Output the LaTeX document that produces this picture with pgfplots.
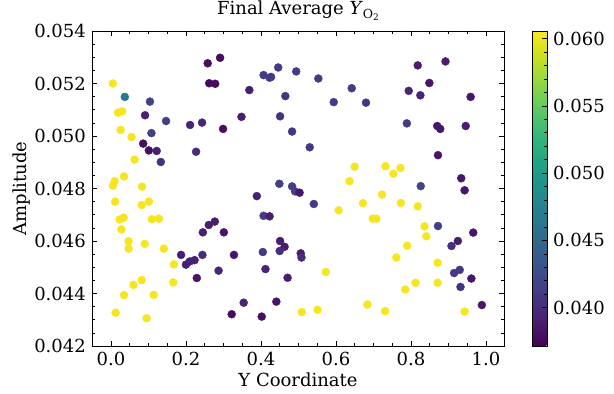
\documentclass[border=0pt]{standalone}
\usepackage{fontspec}
\setmainfont{DejaVu Serif}
\usepackage{pgfplots}
\pgfplotsset{compat=1.18}
\usepackage{pgfplotstable}

\pgfplotstableread{
x y c
0.005 0.0520 0.0603
0.019 0.05089 0.0603
0.030 0.05094 0.0603
0.026 0.05023 0.0603
0.055 0.04996 0.0603
0.063 0.04910 0.0603
0.010 0.04828 0.0603
0.005 0.04811 0.0603
0.035 0.04846 0.0603
0.083 0.04807 0.0603
0.011 0.04750 0.0603
0.082 0.04737 0.0603
0.101 0.04750 0.0603
0.023 0.04682 0.0603
0.034 0.04689 0.0603
0.028 0.04644 0.0603
0.109 0.04683 0.0603
0.128 0.04685 0.0603
0.047 0.04599 0.0603
0.047 0.04571 0.0603
0.090 0.04589 0.0603
0.141 0.04571 0.0603
0.168 0.04511 0.0603
0.082 0.04451 0.0603
0.060 0.04433 0.0603
0.166 0.04442 0.0603
0.035 0.04394 0.0603
0.114 0.04395 0.0603
0.0125 0.04327 0.0603
0.095 0.04306 0.0603
0.650 0.04883 0.0603
0.732 0.04885 0.0603
0.753 0.04856 0.0603
0.772 0.04878 0.0603
0.636 0.04828 0.0603
0.573 0.04482 0.0603
0.509 0.04329 0.0603
0.551 0.04338 0.0603
0.684 0.04358 0.0603
0.731 0.04333 0.0603
0.607 0.04717 0.0603
0.672 0.04744 0.0603
0.723 0.04777 0.0603
0.773 0.04745 0.0603
0.818 0.04732 0.0603
0.698 0.04685 0.0603
0.708 0.04685 0.0603
0.836 0.04656 0.0603
0.841 0.04618 0.0603
0.790 0.04582 0.0603
0.761 0.04537 0.0603
0.871 0.04517 0.0603
0.871 0.04441 0.0603
0.812 0.04441 0.0603
0.785 0.04415 0.0603
0.943 0.04331 0.0603
0.037 0.05149 0.0466
0.104 0.05131 0.0418
0.091 0.05079 0.0393
0.147 0.05057 0.0415
0.108 0.05011 0.0415
0.086 0.04971 0.0380
0.101 0.04945 0.0380
0.122 0.04943 0.0393
0.133 0.04901 0.0405
0.258 0.05277 0.0380
0.291 0.05298 0.0378
0.262 0.05201 0.0377
0.278 0.05199 0.0378
0.369 0.05175 0.0390
0.211 0.05042 0.0395
0.243 0.05051 0.0395
0.299 0.05027 0.0380
0.348 0.05073 0.0390
0.227 0.04940 0.0402
0.407 0.05232 0.0412
0.423 0.05222 0.0412
0.427 0.05225 0.0412
0.446 0.05261 0.0412
0.494 0.05246 0.0412
0.465 0.05152 0.0408
0.451 0.05075 0.0405
0.483 0.05017 0.0408
0.449 0.04818 0.0415
0.483 0.04808 0.0415
0.491 0.04789 0.0415
0.503 0.04784 0.0385
0.553 0.05219 0.0412
0.642 0.05182 0.0412
0.594 0.05129 0.0412
0.680 0.05127 0.0408
0.818 0.05269 0.0390
0.892 0.05284 0.0390
0.849 0.05202 0.0385
0.794 0.05172 0.0395
0.825 0.05155 0.0395
0.959 0.05149 0.0385
0.530 0.04957 0.0412
0.789 0.05048 0.0412
0.870 0.05038 0.0385
0.878 0.05027 0.0385
0.946 0.05038 0.0390
0.872 0.04927 0.0385
0.826 0.04809 0.0420
0.934 0.04839 0.0385
0.943 0.04793 0.0385
0.187 0.04547 0.0390
0.200 0.04510 0.0390
0.210 0.04522 0.0392
0.223 0.04527 0.0392
0.244 0.04547 0.0400
0.245 0.04633 0.0392
0.261 0.04661 0.0390
0.277 0.04674 0.0390
0.301 0.04633 0.0385
0.229 0.04459 0.0385
0.287 0.04487 0.0395
0.328 0.04547 0.0385
0.354 0.04365 0.0395
0.322 0.04321 0.0380
0.402 0.04312 0.0380
0.441 0.04369 0.0385
0.389 0.04771 0.0393
0.407 0.04696 0.0412
0.423 0.04694 0.0390
0.451 0.04600 0.0390
0.463 0.04578 0.0390
0.450 0.04562 0.0402
0.405 0.04558 0.0410
0.412 0.04493 0.0395
0.471 0.04460 0.0390
0.506 0.04553 0.0390
0.508 0.04537 0.0400
0.541 0.04741 0.0412
0.872 0.04657 0.0415
0.966 0.04632 0.0385
0.908 0.04581 0.0405
0.925 0.04600 0.0390
0.915 0.04478 0.0410
0.930 0.04490 0.0410
0.961 0.04457 0.0385
0.932 0.04425 0.0405
0.989 0.04356 0.0387
}\datatable

\begin{document}
\fontsize{18}{21}\selectfont
\begin{tikzpicture}
\useasboundingbox (-92pt,-48pt) rectangle (522pt,346pt);
\begin{axis}[
  at={(0,0)}, anchor=south west,
  scale only axis,
  width=412pt, height=315pt,
  xmin=-0.0505, xmax=1.048,
  ymin=0.042, ymax=0.054,
  xtick={0,0.2,0.4,0.6,0.8,1.0},
  ytick={0.042,0.044,0.046,0.048,0.050,0.052,0.054},
  minor x tick num=3,
  minor y tick num=3,
  tick align=inside,
  tick pos=both,
  xticklabel pos=bottom,
  yticklabel pos=left,
  major tick length=5pt,
  minor tick length=3pt,
  every tick/.style={black, line width=0.7pt},
  axis line style={line width=0.8pt},
  ticklabel style={font=\fontsize{18}{21}\selectfont},
  label style={font=\fontsize{18}{21}\selectfont},
  xlabel style={yshift=5pt},
  ylabel style={yshift=-8pt},
  /pgf/number format/assume math mode=true,
  xticklabel style={/pgf/number format/.cd, fixed, fixed zerofill, precision=1},
  yticklabel style={/pgf/number format/.cd, fixed, fixed zerofill, precision=3},
  scaled y ticks=false,
  scaled x ticks=false,
  xlabel={Y Coordinate},
  ylabel={Amplitude},
  title={Final Average \textit{Y}\raisebox{-0.45ex}{\fontsize{12.5}{14}\selectfont O\raisebox{-0.3ex}{\fontsize{9}{10}\selectfont 2}}},
  title style={font=\fontsize{18}{21}\selectfont, yshift=-2pt},
  colormap/viridis,
  point meta min=0.03715, point meta max=0.06057,
  colorbar,
  colorbar style={
    at={(parent axis.north east)}, anchor=north west, xshift=19.5pt,
    width=15pt,
    ytick={0.040,0.045,0.050,0.055,0.060},
    minor y tick num=4,
    tick align=inside,
    ytick pos=right,
    yticklabel pos=right,
    major tick length=5pt, minor tick length=3pt,
    every tick/.style={black, line width=0.7pt},
    axis line style={line width=0.8pt},
    /pgf/number format/assume math mode=true,
    yticklabel style={font=\fontsize{18}{21}\selectfont, /pgf/number format/.cd, fixed, fixed zerofill, precision=3},
    scaled y ticks=false,
  },
]
\addplot[scatter, only marks, mark=*, mark size=4pt,
  scatter src=explicit,
  scatter/use mapped color={draw=mapped color, fill=mapped color}]
  table[x=x, y=y, meta=c] {\datatable};
\end{axis}
\end{tikzpicture}
\end{document}
